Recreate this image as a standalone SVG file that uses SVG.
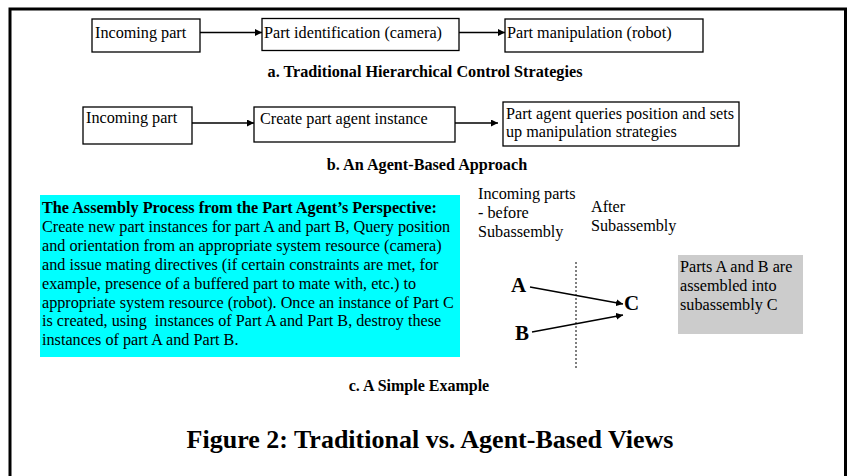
<svg xmlns="http://www.w3.org/2000/svg" width="852" height="476" viewBox="0 0 852 476">
<style>
text{font-family:"Liberation Serif","Times New Roman",serif;fill:#000}
.t{font-size:16.2px}
.b{font-weight:bold}
.box{fill:#fff;stroke:#000;stroke-width:1.3}
.ln{stroke:#000;stroke-width:1.5;fill:none}
</style>
<defs>
<marker id="ah" viewBox="0 0 10 10" refX="10" refY="5" markerWidth="7" markerHeight="7" markerUnits="userSpaceOnUse" orient="auto">
<path d="M0,0L10,5L0,10z" fill="#000"/>
</marker>
</defs>
<rect x="0" y="0" width="852" height="476" fill="#fff"/>
<path d="M10,480V9H845.5V480" fill="none" stroke="#000" stroke-width="3"/>
<g id="a1"><rect class="box" x="92" y="19" width="108" height="33"/><text class="t" x="95" y="38">Incoming part</text></g>
<g id="a2"><rect class="box" x="262" y="18.5" width="197" height="32"/><text class="t" x="264" y="38">Part identification (camera)</text></g>
<g id="a3"><rect class="box" x="505" y="19" width="198" height="33"/><text class="t" x="507" y="38">Part manipulation (robot)</text></g>
<text class="b" x="425" y="77" font-size="16.2" text-anchor="middle">a. Traditional Hierarchical Control Strategies</text>
<g id="b1"><rect class="box" x="83" y="107" width="109" height="37"/><text class="t" x="86" y="123">Incoming part</text></g>
<g id="b2"><rect class="box" x="254" y="107" width="201" height="35"/><text class="t" x="260" y="124">Create part agent instance</text></g>
<g id="b3"><rect class="box" x="503" y="102" width="236" height="44"/><text class="t" x="506" y="119">Part agent queries position and sets</text><text class="t" x="506" y="137">up manipulation strategies</text></g>
<text class="b" x="427" y="170" font-size="16.2" text-anchor="middle">b. An Agent-Based Approach</text>
<g id="cyan">
<rect x="40" y="195" width="420" height="162" fill="#00ffff"/>
<text class="t" x="42" y="213"><tspan class="b">The Assembly Process from the Part Agent’s Perspective:</tspan>
<tspan x="42" dy="18.9">Create new part instances for part A and part B, Query position</tspan>
<tspan x="42" dy="18.9">and orientation from an appropriate system resource (camera)</tspan>
<tspan x="42" dy="18.9">and issue mating directives (if certain constraints are met, for</tspan>
<tspan x="42" dy="18.9">example, presence of a buffered part to mate with, etc.) to</tspan>
<tspan x="42" dy="18.9">appropriate system resource (robot). Once an instance of Part C</tspan>
<tspan x="42" dy="18.9">is created, using &#160;instances of Part A and Part B, destroy these</tspan>
<tspan x="42" dy="18.9">instances of part A and Part B.</tspan></text>
</g>
<g id="before"><text class="t" x="478" y="199">Incoming parts<tspan x="478" dy="19">- before</tspan><tspan x="478" dy="19">Subassembly</tspan></text></g>
<g id="after"><text class="t" x="591" y="212">After<tspan x="591" dy="19">Subassembly</tspan></text></g>
<g id="grey"><rect x="678" y="255" width="125" height="79" fill="#cccccc"/><text class="t" x="680" y="272">Parts A and B are<tspan x="680" dy="19">assembled into</tspan><tspan x="680" dy="19">subassembly C</tspan></text></g>
<g id="partA"><text class="b" x="511" y="292" font-size="21">A</text></g>
<g id="partB"><text class="b" x="515" y="340" font-size="21">B</text></g>
<g id="partC"><text class="b" x="624" y="310" font-size="21">C</text></g>
<g id="connectors">
<line x1="576" y1="262" x2="576" y2="368" stroke="#000" stroke-width="1" stroke-dasharray="2,2"/>
<line class="ln" x1="200" y1="32.5" x2="262" y2="32.5" marker-end="url(#ah)"/>
<line class="ln" x1="459" y1="32.5" x2="505" y2="32.5" marker-end="url(#ah)"/>
<line class="ln" x1="192" y1="123" x2="254" y2="123" marker-end="url(#ah)"/>
<line class="ln" x1="455" y1="123" x2="498" y2="123" marker-end="url(#ah)"/>
<line class="ln" x1="530" y1="287" x2="623" y2="304" marker-end="url(#ah)"/>
<line class="ln" x1="532" y1="332" x2="623" y2="315" marker-end="url(#ah)"/>
</g>
<text class="b" x="419" y="391" font-size="16" text-anchor="middle">c. A Simple Example</text>
<text class="b" x="430" y="448" font-size="26" text-anchor="middle">Figure 2: Traditional vs. Agent-Based Views</text>
</svg>
